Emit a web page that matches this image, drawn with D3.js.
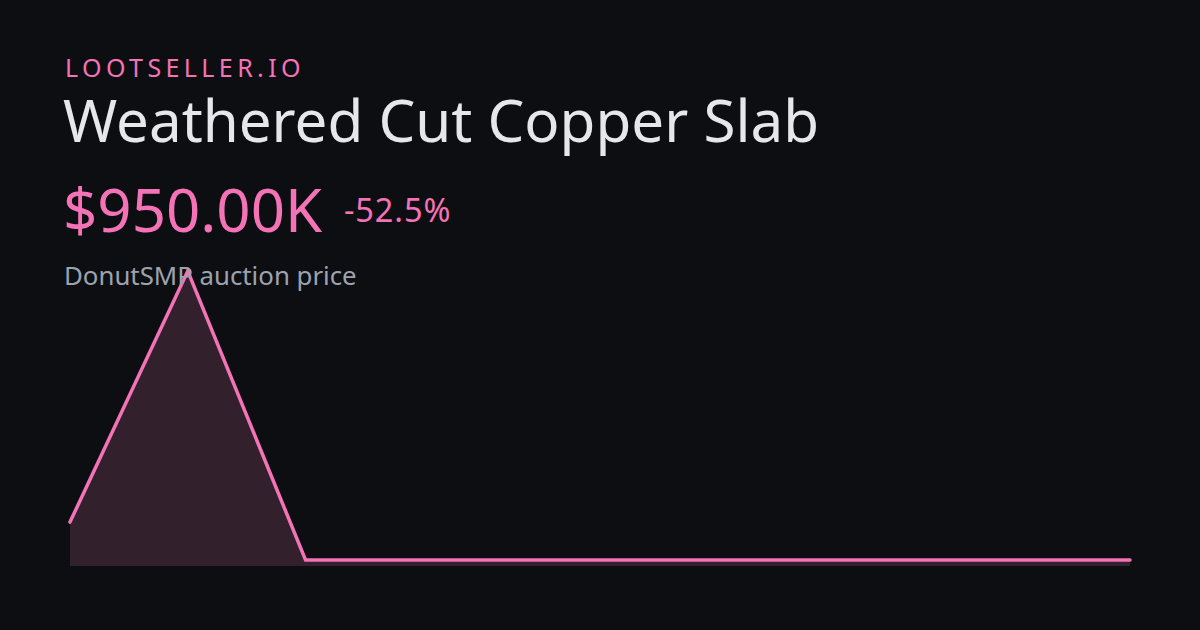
<!DOCTYPE html>
<html><head><meta charset="utf-8">
<script src="https://cdn.jsdelivr.net/npm/d3@7"></script>
<style>html,body{margin:0;padding:0;background:#0d0e12;}svg{display:block;}</style>
</head><body>
<svg id="c" width="1200" height="630"></svg>
<script>
const brand = "LOOTSELLER.IO";
const title = "Weathered Cut Copper Slab";
const priceLabel = "$950.00K";
const changeLabel = "-52.5%";
const subtitle = "DonutSMP auction price";
const points = [0,1,2,3,4,5,6,7,8,9];
const prices = [2000000, 8950000, 950000, 950000, 950000, 950000, 950000, 950000, 950000, 950000];

const svg = d3.select("#c");
const font = "'Noto Sans', 'Open Sans', sans-serif";
svg.append("rect").attr("width",1200).attr("height",630).attr("fill","#0d0e12");

const x = d3.scaleLinear().domain([0, points.length-1]).range([70,1130]);
const y = d3.scaleLinear().domain([d3.min(prices), d3.max(prices)]).range([560,271]);
const data = points.map((p,i)=>({p, v:prices[i]}));

svg.append("path").datum(data)
  .attr("d", d3.area().x(d=>x(d.p)).y0(566).y1(d=>y(d.v)))
  .attr("fill","#32212c");

svg.append("path").datum(data)
  .attr("d", d3.line().x(d=>x(d.p)).y(d=>y(d.v)))
  .attr("fill","none").attr("stroke","#f472b6").attr("stroke-width",3.5)
  .attr("stroke-linejoin","miter").attr("stroke-linecap","round");

svg.append("text").attr("x",65).attr("y",77).text(brand)
  .attr("font-family",font).attr("font-size",25).attr("letter-spacing",4.4).attr("fill","#f472b6");
svg.append("text").attr("x",63).attr("y",142).text(title)
  .attr("font-family",font).attr("font-size",58.3).attr("fill","#e5e7eb");
svg.append("text").attr("x",63).attr("y",232).text(priceLabel)
  .attr("font-family",font).attr("font-size",60).attr("fill","#f472b6");
svg.append("text").attr("x",344).attr("y",222).text(changeLabel)
  .attr("font-family",font).attr("font-size",32.5).attr("letter-spacing",0.9).attr("fill","#f472b6");
svg.append("text").attr("x",64).attr("y",285).text(subtitle)
  .attr("font-family",font).attr("font-size",25.8).attr("fill","#9ca3af");
</script>
</body></html>
